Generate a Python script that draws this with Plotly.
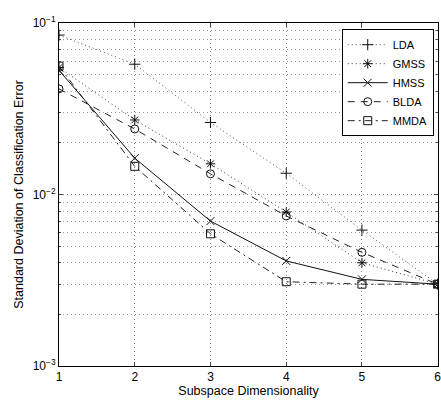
import plotly.graph_objects as go

dims = [1, 2, 3, 4, 5, 6]
lda = [0.085, 0.0575, 0.0263, 0.0133, 0.0062, 0.0030]
gmss = [0.055, 0.0272, 0.0151, 0.0079, 0.0040, 0.0030]
hmss = [0.053, 0.0163, 0.0070, 0.0041, 0.0032, 0.0030]
blda = [0.0413, 0.0241, 0.0132, 0.0075, 0.0046, 0.0030]
mmda = [0.056, 0.0146, 0.0059, 0.0031, 0.0030, 0.0030]

y_tickvals = [0.001, 0.01, 0.1]
y_ticktext = ["10<sup>−3</sup>", "10<sup>−2</sup>", "10<sup>−1</sup>"]

series = [
    ("LDA", lda, "1px,3px", "cross-thin-open", "#555555"),
    ("GMSS", gmss, "1px,3px", "asterisk-open", "#333333"),
    ("HMSS", hmss, "solid", "x-thin-open", "#111111"),
    ("BLDA", blda, "7px,6px", "circle-open", "#222222"),
    ("MMDA", mmda, "7px,4px,2px,4px", "square-open", "#222222"),
]

fig = go.Figure()
for name, vals, dash, sym, col in series:
    fig.add_trace(go.Scatter(
        x=dims, y=vals, name=name, mode="lines+markers",
        line=dict(color=col, dash=dash, width=1),
        marker=dict(symbol=sym, size=8, color="#111111",
                    line=dict(color="#111111", width=1)),
    ))

minor_vals = [m * 10 ** e for e in (-3, -2) for m in range(2, 10)]

fig.update_layout(
    width=441, height=401,
    margin=dict(l=59, r=0, t=23, b=35),
    paper_bgcolor="white", plot_bgcolor="white",
    font=dict(family="Liberation Sans, Arial, sans-serif", size=12, color="black"),
    showlegend=True,
    legend=dict(x=0.746, y=0.982, xanchor="left", yanchor="top",
                bgcolor="white", bordercolor="black", borderwidth=1,
                font=dict(size=11), itemwidth=40, tracegroupgap=0),
    xaxis=dict(
        range=[1, 6.004], tickvals=dims, ticks="inside", ticklen=4,
        ticklabeloverflow="allow",
        showline=True, linecolor="black", linewidth=1, mirror="ticks",
        showgrid=True, gridcolor="#888888", griddash="1px,3px", gridwidth=1,
        zeroline=False,
        title=dict(text="Subspace Dimensionality", font=dict(size=12.5), standoff=1),
        tickfont=dict(size=12),
    ),
    yaxis=dict(
        type="log", range=[-3, -1], tickvals=y_tickvals, ticktext=y_ticktext,
        ticks="inside", ticklen=4,
        showline=True, linecolor="black", linewidth=1, mirror="ticks",
        showgrid=True, gridcolor="#888888", griddash="1px,3px", gridwidth=1,
        minor=dict(tickvals=minor_vals, ticks="inside", ticklen=2,
                   showgrid=True, gridcolor="#999999", griddash="1px,3px", gridwidth=1),
        title=dict(text="Standard Deviation of Classification Error",
                   font=dict(size=12.5), standoff=6),
        tickfont=dict(size=12),
    ),
)

fig.write_html("out.html")
